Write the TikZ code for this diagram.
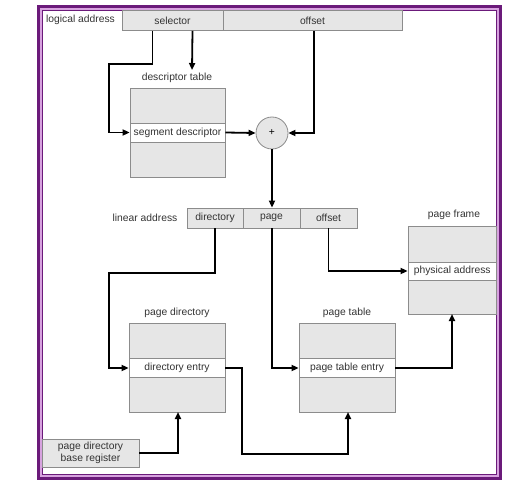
\documentclass[tikz,border=0pt]{standalone}
\usepackage{fontspec}
\setmainfont{Liberation Sans}
\usetikzlibrary{arrows.meta}
\definecolor{fdark}{HTML}{6B1A7A}
\definecolor{flight}{HTML}{D7A2DF}
\definecolor{cellgray}{HTML}{E6E6E6}
\definecolor{cellline}{HTML}{8C8C8C}
\tikzset{
  cell/.style={draw=cellline, fill=cellgray, line width=0.8pt, inner sep=0pt, minimum height=20pt, font=\fontsize{10.3}{12}\selectfont, text=black!80},
  wcell/.style={cell, fill=white},
  lbl/.style={font=\fontsize{10.3}{12}\selectfont, text=black!80, inner sep=0pt},
  conn/.style={line width=1.8pt, black},
  arr/.style={conn, -{Triangle[length=7pt,width=6pt]}},
  tbl/.style={draw=cellline, fill=cellgray, line width=0.8pt},
}
\begin{document}
\begin{tikzpicture}[x=1pt,y=-1pt]
\useasboundingbox (0,0) rectangle (525,484);
% frame
\draw[fdark, line width=3pt] (38.5,6.5) rectangle (500.5,478.5);
\draw[flight, line width=2pt] (41,9) rectangle (498,476);
\draw[fdark, line width=1pt] (42.5,10.5) rectangle (496.5,474.5);

% logical address row
\node[lbl, anchor=west] (la) at (46,20) {logical address};
\node[cell, minimum width=101pt] (sel) at (172.5,20.5) {selector};
\node[cell, minimum width=179pt] (off1) at (312.5,20.5) {offset};

% descriptor table
\node[lbl] (dtl) at (177,78) {descriptor table};
\draw[tbl] (130,88) rectangle (225,177);
\node[wcell, minimum width=95pt, minimum height=19pt] (sd) at (177.5,132.5) {segment descriptor};

% plus
\node[circle, draw=cellline, fill=cellgray, line width=0.8pt, minimum size=32pt, inner sep=0pt, font=\fontsize{10.3}{12}\selectfont] (plus) at (272,133) {+};

% linear address row
\node[lbl] (lin) at (145,218) {linear address};
\node[cell, minimum width=56pt] (dir) at (215,218) {directory};
\node[cell, minimum width=57pt] (pg) at (271.5,218) {page};
\node[cell, minimum width=57pt] (off2) at (328.5,218) {offset};

% page frame
\node[lbl] (pfl) at (454,215) {page frame};
\draw[tbl] (408,226) rectangle (496.5,314);
\node[wcell, minimum width=88.5pt, minimum height=18pt] (pa) at (452.25,271) {physical address};
\coordinate (pfb) at (452,314);

% page directory
\node[lbl] (pdl) at (177,313) {page directory};
\draw[tbl] (129,323) rectangle (225,412);
\node[wcell, minimum width=96pt, minimum height=19pt] (de) at (177,368) {directory entry};
\coordinate (pdb) at (178,412);

% page table
\node[lbl] (ptl) at (347,313) {page table};
\draw[tbl] (299,323) rectangle (395,412);
\node[wcell, minimum width=96pt, minimum height=19pt] (pte) at (347,368) {page table entry};
\coordinate (ptb) at (348,412);

% base register
\node[cell, minimum width=97pt, minimum height=28pt, align=center, font=\fontsize{10.3}{12.5}\selectfont] (pdbr) at (90.5,453) {page directory\\base register};

% connectors
\draw[arr] ([xshift=-20pt]sel.south) -- ++(0,33) -| (109,132.5) -- (sd.west);
\draw[arr] ([xshift=20pt]sel.south) -- (192,70);
\draw[arr] (sd.east) -- (plus.west);
\draw[arr] ([xshift=1.5pt]off1.south) |- (plus.east);
\draw[arr] (plus.south) -- (pg.north -| plus.south);
\draw[arr] (dir.south) |- (109,273) |- (de.west);
\draw[arr] (pg.south -| plus.south) |- (pte.west);
\draw[arr] (off2.south) |- (pa.west);
\draw[arr] (pte.east) -| (pfb);
\draw[arr] (de.east) -- (242,368) |- (348,454) -- (ptb);
\draw[arr] (pdbr.east) -| (pdb);
\end{tikzpicture}
\end{document}
